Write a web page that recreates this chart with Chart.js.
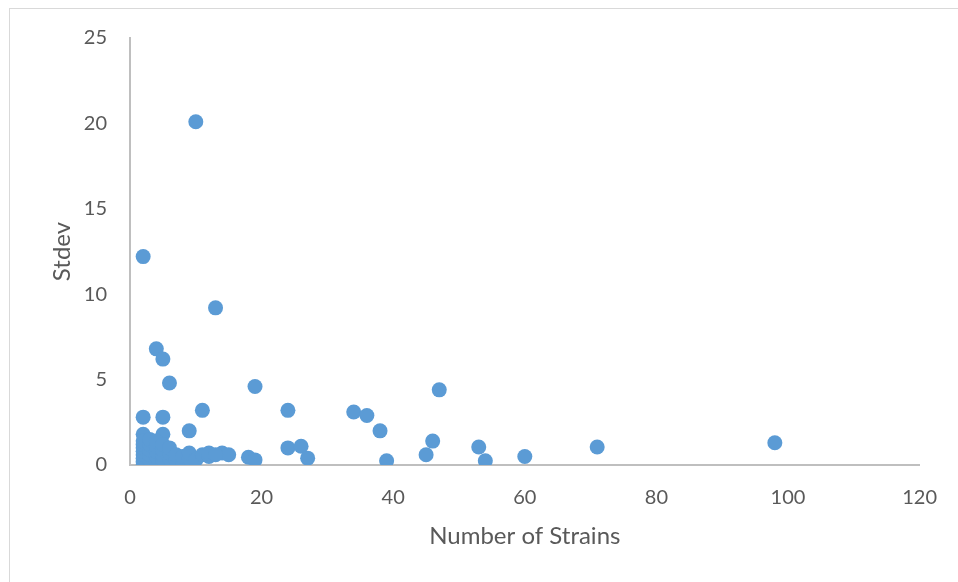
<!DOCTYPE html>
<html>
<head>
<meta charset="utf-8">
<script src="https://cdn.jsdelivr.net/npm/chart.js@4/dist/chart.umd.min.js"></script>
<style>
html,body{margin:0;padding:0;background:#fff;}
#wrap{position:relative;width:958px;height:582px;overflow:hidden;}
#frame{position:absolute;left:9px;top:8px;width:1000px;height:1000px;border-left:1.5px solid #d9d9d9;border-top:1.5px solid #d9d9d9;box-sizing:border-box;}
canvas{position:absolute;left:0;top:0;}
</style>
</head>
<body>
<div id="wrap">
<div id="frame"></div>
<canvas id="c" width="958" height="582"></canvas>
</div>
<script>
const strains = [10, 2, 13, 4, 5, 6, 19, 47, 11, 24, 34, 36, 2, 5, 9, 38, 2, 5, 46, 98,
  24, 26, 53, 71, 27, 39, 45, 54, 60, 18, 19, 14, 15,
  2, 2, 2, 2, 2, 2, 2, 2, 3, 3, 3, 3, 3, 3, 4, 4, 4, 4, 4, 5, 5, 5, 5,
  6, 6, 6, 7, 7, 8, 8, 9, 9, 10, 11, 12, 12, 13];
const stdev = [20.1, 12.2, 9.2, 6.8, 6.2, 4.8, 4.6, 4.4, 3.2, 3.2, 3.1, 2.9, 2.8, 2.8, 2.0, 2.0, 1.8, 1.8, 1.4, 1.3,
  1.0, 1.1, 1.05, 1.05, 0.4, 0.25, 0.6, 0.25, 0.5, 0.45, 0.3, 0.7, 0.6,
  0.0, 0.2, 0.4, 0.6, 0.8, 1.0, 1.2, 1.4, 0.0, 0.3, 0.6, 0.9, 1.2, 1.5, 0.2, 0.5, 0.8, 1.1, 1.4, 0.3, 0.6, 0.9, 1.2,
  0.4, 0.7, 1.0, 0.3, 0.6, 0.0, 0.5, 0.4, 0.7, 0.3, 0.6, 0.5, 0.7, 0.6];
const xTitle = 'Number of Strains';
const yTitle = 'Stdev';

const points = strains.map((x, i) => ({x: x, y: stdev[i]}));
const txt = '#595959';
const axisCol = '#bfbfbf';

new Chart(document.getElementById('c'), {
  type: 'scatter',
  data: {datasets: [{data: points, backgroundColor: '#5B9BD5', borderColor: '#5B9BD5', borderWidth: 0, pointRadius: 7.5, pointHoverRadius: 7.5}]},
  options: {
    responsive: false, animation: false,
    plugins: {legend: {display: false}, tooltip: {enabled: false}},
    layout: {padding: {left: 0, top: 38, right: 38, bottom: 0}},
    scales: {
      x: {
        type: 'linear', min: 0, max: 120,
        ticks: {stepSize: 20, color: txt, font: {family: 'Lato', size: 20}, padding: 21, maxRotation: 0},
        grid: {color: 'transparent', drawTicks: false, tickLength: 0},
        border: {display: true, color: axisCol, width: 2},
        title: {display: true, text: xTitle, color: txt, font: {family: 'Lato', size: 24}, padding: {top: 0, bottom: 31}},
        afterFit: s => { s.height = 582 - 465; }
      },
      y: {
        type: 'linear', min: 0, max: 25,
        ticks: {stepSize: 5, color: txt, font: {family: 'Lato', size: 20}, padding: 23},
        grid: {color: 'transparent', drawTicks: false, tickLength: 0},
        border: {display: true, color: axisCol, width: 2},
        title: {display: true, text: yTitle, color: txt, font: {family: 'Lato', size: 24}, padding: {top: 48, bottom: 0}},
        afterFit: s => { s.width = 130; }
      }
    }
  }
});
</script>
</body>
</html>
